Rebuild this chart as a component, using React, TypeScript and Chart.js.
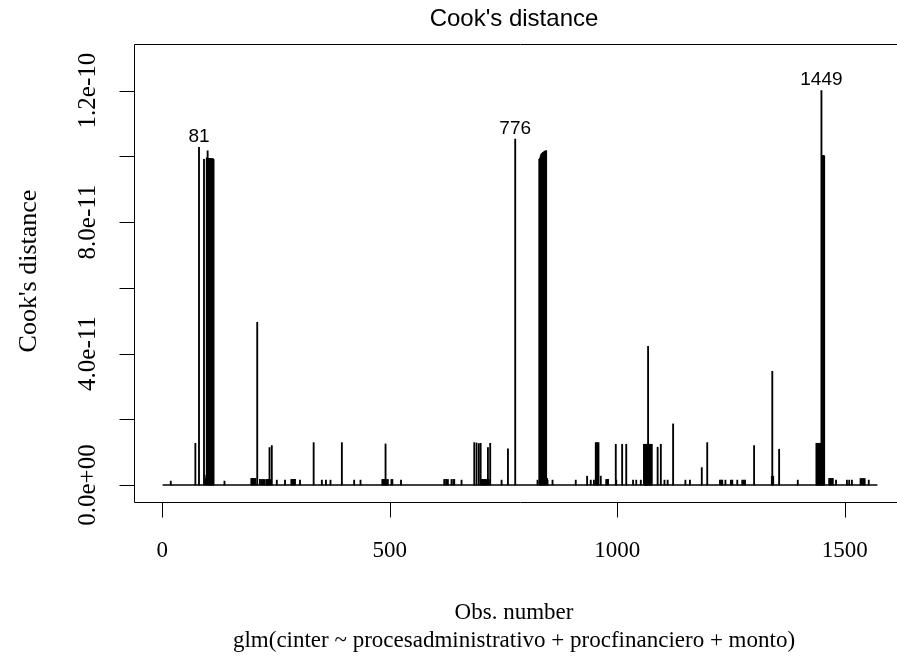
import React, { useEffect, useRef } from "react";
import { Chart, registerables } from "chart.js";

Chart.register(...registerables);

// ---------------- data ----------------
const N_OBS = 1572;

// observation numbers with a visible Cook's distance (all others are ~0)
const obsIndex = [
  19, 73, 81, 92, 95, 97, 98, 100, 102, 103, 104, 105, 106, 107, 108, 109, 110, 111, 112, 113,
  137, 196, 198, 200, 203, 205, 209, 215, 219, 222, 225, 229, 231, 233, 234, 236, 238, 241,
  252, 270, 284, 286, 288, 290, 292, 303, 333, 351, 360, 370, 395, 422, 436,
  484, 486, 488, 490, 491, 494, 496, 504, 506, 525,
  620, 624, 628, 636, 640, 642, 658, 686, 691, 696, 700, 703, 705, 707, 709, 711, 713, 716, 718, 721,
  746, 760, 776, 825,
  829, 830, 831, 832, 833, 834, 835, 836, 837, 838, 839, 840, 841, 842, 843, 844, 846, 847, 858, 909,
  934, 942, 949, 953, 955, 957, 959, 964, 976, 978, 980, 997, 998, 1011, 1020, 1035, 1042, 1052,
  1059, 1060, 1061, 1062, 1063, 1064, 1065, 1066, 1067, 1068, 1069, 1070, 1071, 1072, 1073, 1074, 1075, 1076,
  1089, 1096, 1104, 1111, 1123, 1150, 1160, 1186, 1198,
  1226, 1229, 1231, 1238, 1250, 1253, 1264, 1275, 1278, 1281, 1301, 1340, 1341, 1343, 1356, 1397,
  1438, 1439, 1440, 1441, 1442, 1443, 1444, 1445, 1446, 1447, 1448, 1449, 1450, 1451, 1452, 1453, 1454, 1455,
  1466, 1468, 1470, 1472, 1474, 1481, 1505, 1510, 1516, 1535, 1538, 1541, 1544, 1553,
];

const cooksDistance = [
  0.12e-11, 1.27e-11, 10.27e-11, 9.91e-11, 0.2e-11, 0.3e-11, 9.95e-11, 10.17e-11, 9.92e-11, 9.93e-11, 9.91e-11, 9.94e-11, 9.92e-11, 9.93e-11, 9.91e-11, 9.92e-11, 9.93e-11, 9.91e-11, 9.92e-11, 9.9e-11,
  0.12e-11, 0.2e-11, 0.2e-11, 0.2e-11, 0.2e-11, 0.2e-11, 4.95e-11, 0.17e-11, 0.17e-11, 0.17e-11, 0.17e-11, 0.17e-11, 0.17e-11, 0.17e-11, 0.17e-11, 1.14e-11, 0.17e-11, 1.2e-11,
  0.15e-11, 0.15e-11, 0.17e-11, 0.17e-11, 0.17e-11, 0.17e-11, 0.17e-11, 0.15e-11, 1.29e-11, 0.15e-11, 0.15e-11, 0.15e-11, 1.29e-11, 0.15e-11, 0.15e-11,
  0.17e-11, 0.17e-11, 0.17e-11, 0.17e-11, 1.25e-11, 0.17e-11, 0.17e-11, 0.17e-11, 0.17e-11, 0.15e-11,
  0.17e-11, 0.17e-11, 0.17e-11, 0.17e-11, 0.17e-11, 0.17e-11, 0.15e-11, 1.29e-11, 1.28e-11, 1.26e-11, 1.27e-11, 0.17e-11, 0.17e-11, 0.17e-11, 0.17e-11, 0.17e-11, 0.17e-11, 1.14e-11, 0.17e-11, 1.27e-11,
  0.15e-11, 1.1e-11, 10.52e-11, 0.15e-11,
  9.91e-11, 9.93e-11, 9.95e-11, 10.0e-11, 10.05e-11, 10.07e-11, 10.08e-11, 10.1e-11, 10.11e-11, 10.12e-11, 10.13e-11, 10.14e-11, 10.15e-11, 10.16e-11, 10.17e-11, 10.17e-11, 0.2e-11, 0.15e-11, 0.15e-11, 0.15e-11,
  0.27e-11, 0.15e-11, 0.15e-11, 1.29e-11, 1.29e-11, 1.29e-11, 1.29e-11, 0.27e-11, 0.17e-11, 0.17e-11, 0.17e-11, 1.24e-11, 0.15e-11, 1.24e-11, 1.24e-11, 0.15e-11, 0.15e-11, 0.15e-11,
  1.24e-11, 1.24e-11, 1.23e-11, 1.24e-11, 1.24e-11, 1.24e-11, 1.23e-11, 1.24e-11, 1.24e-11, 4.22e-11, 1.24e-11, 1.24e-11, 1.23e-11, 1.24e-11, 1.24e-11, 1.24e-11, 1.23e-11, 1.24e-11,
  1.15e-11, 1.24e-11, 0.15e-11, 0.15e-11, 1.86e-11, 0.15e-11, 0.15e-11, 0.53e-11, 1.29e-11,
  0.15e-11, 0.15e-11, 0.15e-11, 0.15e-11, 0.15e-11, 0.15e-11, 0.15e-11, 0.15e-11, 0.15e-11, 0.15e-11, 1.2e-11, 0.27e-11, 3.46e-11, 0.27e-11, 1.09e-11, 0.15e-11,
  1.27e-11, 1.27e-11, 1.26e-11, 1.27e-11, 1.27e-11, 1.27e-11, 1.26e-11, 1.27e-11, 1.27e-11, 1.27e-11, 1.27e-11, 12.0e-11, 10.02e-11, 10.02e-11, 10.01e-11, 10.02e-11, 10.02e-11, 10.01e-11,
  0.2e-11, 0.2e-11, 0.2e-11, 0.2e-11, 0.2e-11, 0.15e-11, 0.15e-11, 0.15e-11, 0.15e-11, 0.2e-11, 0.2e-11, 0.2e-11, 0.2e-11, 0.15e-11,
];

const labelledObs = [81, 776, 1449];

const xTickValues = [0, 500, 1000, 1500];
const xTickLabels = ["0", "500", "1000", "1500"];
const yTickValues = [0, 2e-11, 4e-11, 6e-11, 8e-11, 1e-10, 1.2e-10];
const yTickLabels = ["0.0e+00", "", "4.0e-11", "", "8.0e-11", "", "1.2e-10"];

const mainTitle = "Cook's distance";
const xTitle = "Obs. number";
const yTitle = "Cook's distance";
const subTitle = "glm(cinter ~ procesadministrativo + procfinanciero + monto)";

// ---------------- layout ----------------
const VIEW_W = 897;
const VIEW_H = 664;
const CANVAS_W = 920;
const PLOT_LEFT = 134;
const PLOT_TOP = 44;
const PLOT_RIGHT = 906;
const PLOT_BOTTOM = 502;
const TEXT_CENTER_X = 514;

const SERIF = '"Liberation Serif", "Times New Roman", serif';
const SANS = '"Liberation Sans", Arial, sans-serif';

const rAxesPlugin = {
  id: "rAxes",
  afterDraw(chart: any) {
    const ctx = chart.ctx as CanvasRenderingContext2D;
    const area = chart.chartArea;
    const xs = chart.scales.x;
    const ys = chart.scales.y;
    const L = Math.round(area.left) + 0.5;
    const T = Math.round(area.top) + 0.5;
    const B = Math.round(area.bottom) + 0.5;
    const R = Math.round(area.right) + 0.5;
    ctx.save();
    ctx.strokeStyle = "#000";
    ctx.lineWidth = 1;
    // box
    ctx.beginPath();
    ctx.moveTo(R, T);
    ctx.lineTo(L, T);
    ctx.lineTo(L, B);
    ctx.lineTo(R, B);
    ctx.lineTo(R, T);
    ctx.stroke();

    // y ticks
    ctx.fillStyle = "#000";
    ctx.font = `25px ${SERIF}`;
    yTickValues.forEach((v, i) => {
      const y = Math.round(ys.getPixelForValue(v)) + 0.5;
      ctx.beginPath();
      ctx.moveTo(L - 15, y);
      ctx.lineTo(L, y);
      ctx.stroke();
      const lab = yTickLabels[i];
      if (lab) {
        ctx.save();
        ctx.translate(88, ys.getPixelForValue(v));
        ctx.rotate(-Math.PI / 2);
        ctx.textAlign = "center";
        ctx.textBaseline = "middle";
        ctx.fillText(lab, 0, 0);
        ctx.restore();
      }
    });

    // x ticks
    ctx.font = `23px ${SERIF}`;
    xTickValues.forEach((v, i) => {
      const x = Math.round(xs.getPixelForValue(v)) + 0.5;
      ctx.beginPath();
      ctx.moveTo(x, B);
      ctx.lineTo(x, B + 15);
      ctx.stroke();
      ctx.textAlign = "center";
      ctx.textBaseline = "middle";
      ctx.fillText(xTickLabels[i], xs.getPixelForValue(v), 551);
    });

    // axis titles
    ctx.textAlign = "center";
    ctx.textBaseline = "middle";
    ctx.fillText(xTitle, TEXT_CENTER_X, 613);
    ctx.fillText(subTitle, TEXT_CENTER_X, 641);
    ctx.save();
    ctx.font = `26px ${SERIF}`;
    ctx.translate(29, (area.top + area.bottom) / 2 - 2);
    ctx.rotate(-Math.PI / 2);
    ctx.fillText(yTitle, 0, 0);
    ctx.restore();

    // main title
    ctx.font = `24px ${SANS}`;
    ctx.fillText(mainTitle, TEXT_CENTER_X, 19);

    // point labels
    ctx.font = `19px ${SANS}`;
    ctx.textBaseline = "bottom";
    labelledObs.forEach((o) => {
      const idx = obsIndex.indexOf(o);
      if (idx < 0) return;
      const x = xs.getPixelForValue(o);
      const y = ys.getPixelForValue(cooksDistance[idx]);
      ctx.fillText(String(o), x, y - 1);
    });
    ctx.restore();
  },
};

export default function App() {
  const ref = useRef<HTMLCanvasElement | null>(null);
  useEffect(() => {
    if (!ref.current) return;
    const maxD = Math.max(...cooksDistance);
    const yTop = maxD * 1.075;
    const yPad = 0.04 * yTop;
    const xPad = 0.04 * (N_OBS - 1);
    const chart = new Chart(ref.current, {
      type: "bar",
      data: {
        datasets: [
          {
            type: "bar",
            data: obsIndex.map((x, i) => ({ x, y: cooksDistance[i] })),
            backgroundColor: "#000",
            borderWidth: 0,
            barThickness: 1.2,
            grouped: false,
            order: 1,
          } as any,
          {
            type: "line",
            data: [
              { x: 1, y: 0 },
              { x: N_OBS, y: 0 },
            ],
            borderColor: "#000",
            borderWidth: 1.5,
            pointRadius: 0,
            order: 2,
          } as any,
        ],
      },
      options: {
        animation: false,
        responsive: false,
        events: [],
        layout: {
          padding: {
            left: PLOT_LEFT,
            top: PLOT_TOP,
            right: CANVAS_W - PLOT_RIGHT,
            bottom: VIEW_H - PLOT_BOTTOM,
          },
        },
        plugins: {
          legend: { display: false },
          tooltip: { enabled: false },
          title: { display: false },
        },
        scales: {
          x: { type: "linear", min: 1 - xPad, max: N_OBS + xPad, display: false, offset: false },
          y: { type: "linear", min: -yPad, max: yTop + yPad, display: false },
        },
      } as any,
      plugins: [rAxesPlugin],
    });
    return () => chart.destroy();
  }, []);
  return (
    <div
      style={{
        position: "fixed",
        left: 0,
        top: 0,
        width: VIEW_W,
        height: VIEW_H,
        overflow: "hidden",
        background: "#fff",
      }}
    >
      <canvas ref={ref} width={CANVAS_W} height={VIEW_H} style={{ display: "block" }} />
    </div>
  );
}
